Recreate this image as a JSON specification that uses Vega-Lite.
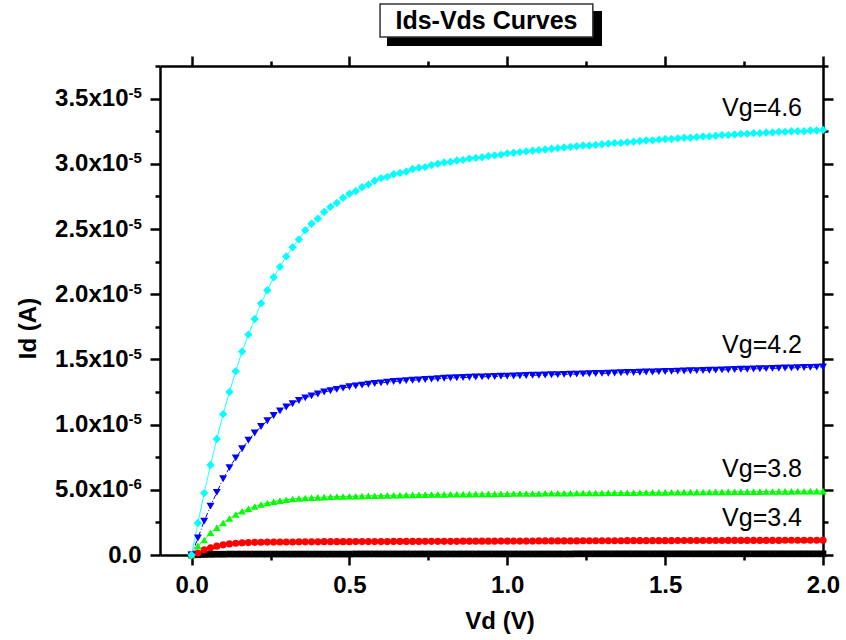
{
"$schema":"https://vega.github.io/schema/vega-lite/v6.json",
"width":663,"height":489,
"autosize":{"type":"none"},
"padding":{"left":160,"top":66,"right":23,"bottom":85},
"background":"white",
"config":{"view":{"stroke":null},"axis":{"grid":false,"domainColor":"black","domainWidth":2.5,"tickColor":"black","tickWidth":2.5,"labelFont":"Liberation Sans","labelFontWeight":"bold","labelFontSize":24,"labelColor":"black","labelOverlap":false,"labelFlush":false,"labelBound":false,"titleFont":"Liberation Sans","titleFontWeight":"bold","titleFontSize":24,"titleColor":"black"}},
"data":{"values":[
{"vg":"Vg=3.0","vd":0,"id":0},{"vg":"Vg=3.0","vd":0.02,"id":0.02},{"vg":"Vg=3.0","vd":0.04,"id":0.04},{"vg":"Vg=3.0","vd":0.06,"id":0.05},{"vg":"Vg=3.0","vd":0.08,"id":0.06},{"vg":"Vg=3.0","vd":0.1,"id":0.06},{"vg":"Vg=3.0","vd":0.12,"id":0.07},{"vg":"Vg=3.0","vd":0.14,"id":0.07},{"vg":"Vg=3.0","vd":0.16,"id":0.07},{"vg":"Vg=3.0","vd":0.18,"id":0.07},{"vg":"Vg=3.0","vd":0.2,"id":0.07},{"vg":"Vg=3.0","vd":0.22,"id":0.07},{"vg":"Vg=3.0","vd":0.24,"id":0.07},{"vg":"Vg=3.0","vd":0.26,"id":0.07},{"vg":"Vg=3.0","vd":0.28,"id":0.07},{"vg":"Vg=3.0","vd":0.3,"id":0.07},{"vg":"Vg=3.0","vd":0.32,"id":0.07},{"vg":"Vg=3.0","vd":0.34,"id":0.07},{"vg":"Vg=3.0","vd":0.36,"id":0.07},{"vg":"Vg=3.0","vd":0.38,"id":0.07},{"vg":"Vg=3.0","vd":0.4,"id":0.07},{"vg":"Vg=3.0","vd":0.42,"id":0.07},{"vg":"Vg=3.0","vd":0.44,"id":0.07},{"vg":"Vg=3.0","vd":0.46,"id":0.07},{"vg":"Vg=3.0","vd":0.48,"id":0.07},{"vg":"Vg=3.0","vd":0.5,"id":0.07},{"vg":"Vg=3.0","vd":0.52,"id":0.08},{"vg":"Vg=3.0","vd":0.54,"id":0.08},{"vg":"Vg=3.0","vd":0.56,"id":0.08},{"vg":"Vg=3.0","vd":0.58,"id":0.08},{"vg":"Vg=3.0","vd":0.6,"id":0.08},{"vg":"Vg=3.0","vd":0.62,"id":0.08},{"vg":"Vg=3.0","vd":0.64,"id":0.08},{"vg":"Vg=3.0","vd":0.66,"id":0.08},{"vg":"Vg=3.0","vd":0.68,"id":0.08},{"vg":"Vg=3.0","vd":0.7,"id":0.08},{"vg":"Vg=3.0","vd":0.72,"id":0.08},{"vg":"Vg=3.0","vd":0.74,"id":0.08},{"vg":"Vg=3.0","vd":0.76,"id":0.08},{"vg":"Vg=3.0","vd":0.78,"id":0.08},{"vg":"Vg=3.0","vd":0.8,"id":0.08},{"vg":"Vg=3.0","vd":0.82,"id":0.08},{"vg":"Vg=3.0","vd":0.84,"id":0.08},{"vg":"Vg=3.0","vd":0.86,"id":0.08},{"vg":"Vg=3.0","vd":0.88,"id":0.08},{"vg":"Vg=3.0","vd":0.9,"id":0.08},{"vg":"Vg=3.0","vd":0.92,"id":0.08},{"vg":"Vg=3.0","vd":0.94,"id":0.08},{"vg":"Vg=3.0","vd":0.96,"id":0.08},{"vg":"Vg=3.0","vd":0.98,"id":0.08},{"vg":"Vg=3.0","vd":1,"id":0.08},{"vg":"Vg=3.0","vd":1.02,"id":0.08},{"vg":"Vg=3.0","vd":1.04,"id":0.08},{"vg":"Vg=3.0","vd":1.06,"id":0.08},{"vg":"Vg=3.0","vd":1.08,"id":0.08},{"vg":"Vg=3.0","vd":1.1,"id":0.08},{"vg":"Vg=3.0","vd":1.12,"id":0.08},{"vg":"Vg=3.0","vd":1.14,"id":0.08},{"vg":"Vg=3.0","vd":1.16,"id":0.08},{"vg":"Vg=3.0","vd":1.18,"id":0.08},{"vg":"Vg=3.0","vd":1.2,"id":0.08},{"vg":"Vg=3.0","vd":1.22,"id":0.09},{"vg":"Vg=3.0","vd":1.24,"id":0.09},{"vg":"Vg=3.0","vd":1.26,"id":0.09},{"vg":"Vg=3.0","vd":1.28,"id":0.09},{"vg":"Vg=3.0","vd":1.3,"id":0.09},{"vg":"Vg=3.0","vd":1.32,"id":0.09},{"vg":"Vg=3.0","vd":1.34,"id":0.09},{"vg":"Vg=3.0","vd":1.36,"id":0.09},{"vg":"Vg=3.0","vd":1.38,"id":0.09},{"vg":"Vg=3.0","vd":1.4,"id":0.09},{"vg":"Vg=3.0","vd":1.42,"id":0.09},{"vg":"Vg=3.0","vd":1.44,"id":0.09},{"vg":"Vg=3.0","vd":1.46,"id":0.09},{"vg":"Vg=3.0","vd":1.48,"id":0.09},{"vg":"Vg=3.0","vd":1.5,"id":0.09},{"vg":"Vg=3.0","vd":1.52,"id":0.09},{"vg":"Vg=3.0","vd":1.54,"id":0.09},{"vg":"Vg=3.0","vd":1.56,"id":0.09},{"vg":"Vg=3.0","vd":1.58,"id":0.09},{"vg":"Vg=3.0","vd":1.6,"id":0.09},{"vg":"Vg=3.0","vd":1.62,"id":0.09},{"vg":"Vg=3.0","vd":1.64,"id":0.09},{"vg":"Vg=3.0","vd":1.66,"id":0.09},{"vg":"Vg=3.0","vd":1.68,"id":0.09},{"vg":"Vg=3.0","vd":1.7,"id":0.09},{"vg":"Vg=3.0","vd":1.72,"id":0.09},{"vg":"Vg=3.0","vd":1.74,"id":0.09},{"vg":"Vg=3.0","vd":1.76,"id":0.09},{"vg":"Vg=3.0","vd":1.78,"id":0.09},{"vg":"Vg=3.0","vd":1.8,"id":0.09},{"vg":"Vg=3.0","vd":1.82,"id":0.09},{"vg":"Vg=3.0","vd":1.84,"id":0.09},{"vg":"Vg=3.0","vd":1.86,"id":0.09},{"vg":"Vg=3.0","vd":1.88,"id":0.09},{"vg":"Vg=3.0","vd":1.9,"id":0.09},{"vg":"Vg=3.0","vd":1.92,"id":0.09},{"vg":"Vg=3.0","vd":1.94,"id":0.09},{"vg":"Vg=3.0","vd":1.96,"id":0.09},{"vg":"Vg=3.0","vd":1.98,"id":0.09},{"vg":"Vg=3.0","vd":2,"id":0.09},
{"vg":"Vg=3.4","vd":0,"id":0},{"vg":"Vg=3.4","vd":0.02,"id":0.15},{"vg":"Vg=3.4","vd":0.04,"id":0.4},{"vg":"Vg=3.4","vd":0.06,"id":0.55},{"vg":"Vg=3.4","vd":0.08,"id":0.68},{"vg":"Vg=3.4","vd":0.1,"id":0.78},{"vg":"Vg=3.4","vd":0.12,"id":0.85},{"vg":"Vg=3.4","vd":0.14,"id":0.9},{"vg":"Vg=3.4","vd":0.16,"id":0.93},{"vg":"Vg=3.4","vd":0.18,"id":0.95},{"vg":"Vg=3.4","vd":0.2,"id":0.97},{"vg":"Vg=3.4","vd":0.22,"id":0.98},{"vg":"Vg=3.4","vd":0.24,"id":0.99},{"vg":"Vg=3.4","vd":0.26,"id":0.99},{"vg":"Vg=3.4","vd":0.28,"id":1},{"vg":"Vg=3.4","vd":0.3,"id":1},{"vg":"Vg=3.4","vd":0.32,"id":1},{"vg":"Vg=3.4","vd":0.34,"id":1.01},{"vg":"Vg=3.4","vd":0.36,"id":1.01},{"vg":"Vg=3.4","vd":0.38,"id":1.01},{"vg":"Vg=3.4","vd":0.4,"id":1.01},{"vg":"Vg=3.4","vd":0.42,"id":1.02},{"vg":"Vg=3.4","vd":0.44,"id":1.02},{"vg":"Vg=3.4","vd":0.46,"id":1.02},{"vg":"Vg=3.4","vd":0.48,"id":1.02},{"vg":"Vg=3.4","vd":0.5,"id":1.02},{"vg":"Vg=3.4","vd":0.52,"id":1.03},{"vg":"Vg=3.4","vd":0.54,"id":1.03},{"vg":"Vg=3.4","vd":0.56,"id":1.03},{"vg":"Vg=3.4","vd":0.58,"id":1.03},{"vg":"Vg=3.4","vd":0.6,"id":1.03},{"vg":"Vg=3.4","vd":0.62,"id":1.03},{"vg":"Vg=3.4","vd":0.64,"id":1.04},{"vg":"Vg=3.4","vd":0.66,"id":1.04},{"vg":"Vg=3.4","vd":0.68,"id":1.04},{"vg":"Vg=3.4","vd":0.7,"id":1.04},{"vg":"Vg=3.4","vd":0.72,"id":1.04},{"vg":"Vg=3.4","vd":0.74,"id":1.05},{"vg":"Vg=3.4","vd":0.76,"id":1.05},{"vg":"Vg=3.4","vd":0.78,"id":1.05},{"vg":"Vg=3.4","vd":0.8,"id":1.05},{"vg":"Vg=3.4","vd":0.82,"id":1.05},{"vg":"Vg=3.4","vd":0.84,"id":1.05},{"vg":"Vg=3.4","vd":0.86,"id":1.06},{"vg":"Vg=3.4","vd":0.88,"id":1.06},{"vg":"Vg=3.4","vd":0.9,"id":1.06},{"vg":"Vg=3.4","vd":0.92,"id":1.06},{"vg":"Vg=3.4","vd":0.94,"id":1.06},{"vg":"Vg=3.4","vd":0.96,"id":1.06},{"vg":"Vg=3.4","vd":0.98,"id":1.07},{"vg":"Vg=3.4","vd":1,"id":1.07},{"vg":"Vg=3.4","vd":1.02,"id":1.07},{"vg":"Vg=3.4","vd":1.04,"id":1.07},{"vg":"Vg=3.4","vd":1.06,"id":1.07},{"vg":"Vg=3.4","vd":1.08,"id":1.07},{"vg":"Vg=3.4","vd":1.1,"id":1.08},{"vg":"Vg=3.4","vd":1.12,"id":1.08},{"vg":"Vg=3.4","vd":1.14,"id":1.08},{"vg":"Vg=3.4","vd":1.16,"id":1.08},{"vg":"Vg=3.4","vd":1.18,"id":1.08},{"vg":"Vg=3.4","vd":1.2,"id":1.08},{"vg":"Vg=3.4","vd":1.22,"id":1.08},{"vg":"Vg=3.4","vd":1.24,"id":1.09},{"vg":"Vg=3.4","vd":1.26,"id":1.09},{"vg":"Vg=3.4","vd":1.28,"id":1.09},{"vg":"Vg=3.4","vd":1.3,"id":1.09},{"vg":"Vg=3.4","vd":1.32,"id":1.09},{"vg":"Vg=3.4","vd":1.34,"id":1.09},{"vg":"Vg=3.4","vd":1.36,"id":1.09},{"vg":"Vg=3.4","vd":1.38,"id":1.1},{"vg":"Vg=3.4","vd":1.4,"id":1.1},{"vg":"Vg=3.4","vd":1.42,"id":1.1},{"vg":"Vg=3.4","vd":1.44,"id":1.1},{"vg":"Vg=3.4","vd":1.46,"id":1.1},{"vg":"Vg=3.4","vd":1.48,"id":1.1},{"vg":"Vg=3.4","vd":1.5,"id":1.1},{"vg":"Vg=3.4","vd":1.52,"id":1.1},{"vg":"Vg=3.4","vd":1.54,"id":1.11},{"vg":"Vg=3.4","vd":1.56,"id":1.11},{"vg":"Vg=3.4","vd":1.58,"id":1.11},{"vg":"Vg=3.4","vd":1.6,"id":1.11},{"vg":"Vg=3.4","vd":1.62,"id":1.11},{"vg":"Vg=3.4","vd":1.64,"id":1.11},{"vg":"Vg=3.4","vd":1.66,"id":1.11},{"vg":"Vg=3.4","vd":1.68,"id":1.11},{"vg":"Vg=3.4","vd":1.7,"id":1.12},{"vg":"Vg=3.4","vd":1.72,"id":1.12},{"vg":"Vg=3.4","vd":1.74,"id":1.12},{"vg":"Vg=3.4","vd":1.76,"id":1.12},{"vg":"Vg=3.4","vd":1.78,"id":1.12},{"vg":"Vg=3.4","vd":1.8,"id":1.12},{"vg":"Vg=3.4","vd":1.82,"id":1.12},{"vg":"Vg=3.4","vd":1.84,"id":1.12},{"vg":"Vg=3.4","vd":1.86,"id":1.12},{"vg":"Vg=3.4","vd":1.88,"id":1.13},{"vg":"Vg=3.4","vd":1.9,"id":1.13},{"vg":"Vg=3.4","vd":1.92,"id":1.13},{"vg":"Vg=3.4","vd":1.94,"id":1.13},{"vg":"Vg=3.4","vd":1.96,"id":1.13},{"vg":"Vg=3.4","vd":1.98,"id":1.13},{"vg":"Vg=3.4","vd":2,"id":1.13},
{"vg":"Vg=3.8","vd":0,"id":0},{"vg":"Vg=3.8","vd":0.02,"id":0.7},{"vg":"Vg=3.8","vd":0.04,"id":1.15},{"vg":"Vg=3.8","vd":0.06,"id":1.7},{"vg":"Vg=3.8","vd":0.08,"id":2.1},{"vg":"Vg=3.8","vd":0.1,"id":2.45},{"vg":"Vg=3.8","vd":0.12,"id":2.8},{"vg":"Vg=3.8","vd":0.14,"id":3.1},{"vg":"Vg=3.8","vd":0.16,"id":3.35},{"vg":"Vg=3.8","vd":0.18,"id":3.55},{"vg":"Vg=3.8","vd":0.2,"id":3.72},{"vg":"Vg=3.8","vd":0.22,"id":3.87},{"vg":"Vg=3.8","vd":0.24,"id":3.99},{"vg":"Vg=3.8","vd":0.26,"id":4.09},{"vg":"Vg=3.8","vd":0.28,"id":4.17},{"vg":"Vg=3.8","vd":0.3,"id":4.24},{"vg":"Vg=3.8","vd":0.32,"id":4.29},{"vg":"Vg=3.8","vd":0.34,"id":4.33},{"vg":"Vg=3.8","vd":0.36,"id":4.37},{"vg":"Vg=3.8","vd":0.38,"id":4.4},{"vg":"Vg=3.8","vd":0.4,"id":4.42},{"vg":"Vg=3.8","vd":0.42,"id":4.44},{"vg":"Vg=3.8","vd":0.44,"id":4.46},{"vg":"Vg=3.8","vd":0.46,"id":4.48},{"vg":"Vg=3.8","vd":0.48,"id":4.49},{"vg":"Vg=3.8","vd":0.5,"id":4.5},{"vg":"Vg=3.8","vd":0.52,"id":4.51},{"vg":"Vg=3.8","vd":0.54,"id":4.53},{"vg":"Vg=3.8","vd":0.56,"id":4.54},{"vg":"Vg=3.8","vd":0.58,"id":4.55},{"vg":"Vg=3.8","vd":0.6,"id":4.56},{"vg":"Vg=3.8","vd":0.62,"id":4.57},{"vg":"Vg=3.8","vd":0.64,"id":4.58},{"vg":"Vg=3.8","vd":0.66,"id":4.59},{"vg":"Vg=3.8","vd":0.68,"id":4.6},{"vg":"Vg=3.8","vd":0.7,"id":4.61},{"vg":"Vg=3.8","vd":0.72,"id":4.62},{"vg":"Vg=3.8","vd":0.74,"id":4.63},{"vg":"Vg=3.8","vd":0.76,"id":4.64},{"vg":"Vg=3.8","vd":0.78,"id":4.65},{"vg":"Vg=3.8","vd":0.8,"id":4.65},{"vg":"Vg=3.8","vd":0.82,"id":4.66},{"vg":"Vg=3.8","vd":0.84,"id":4.66},{"vg":"Vg=3.8","vd":0.86,"id":4.67},{"vg":"Vg=3.8","vd":0.88,"id":4.67},{"vg":"Vg=3.8","vd":0.9,"id":4.68},{"vg":"Vg=3.8","vd":0.92,"id":4.68},{"vg":"Vg=3.8","vd":0.94,"id":4.69},{"vg":"Vg=3.8","vd":0.96,"id":4.69},{"vg":"Vg=3.8","vd":0.98,"id":4.7},{"vg":"Vg=3.8","vd":1,"id":4.7},{"vg":"Vg=3.8","vd":1.02,"id":4.71},{"vg":"Vg=3.8","vd":1.04,"id":4.71},{"vg":"Vg=3.8","vd":1.06,"id":4.72},{"vg":"Vg=3.8","vd":1.08,"id":4.72},{"vg":"Vg=3.8","vd":1.1,"id":4.72},{"vg":"Vg=3.8","vd":1.12,"id":4.73},{"vg":"Vg=3.8","vd":1.14,"id":4.73},{"vg":"Vg=3.8","vd":1.16,"id":4.74},{"vg":"Vg=3.8","vd":1.18,"id":4.74},{"vg":"Vg=3.8","vd":1.2,"id":4.74},{"vg":"Vg=3.8","vd":1.22,"id":4.75},{"vg":"Vg=3.8","vd":1.24,"id":4.75},{"vg":"Vg=3.8","vd":1.26,"id":4.76},{"vg":"Vg=3.8","vd":1.28,"id":4.76},{"vg":"Vg=3.8","vd":1.3,"id":4.76},{"vg":"Vg=3.8","vd":1.32,"id":4.77},{"vg":"Vg=3.8","vd":1.34,"id":4.77},{"vg":"Vg=3.8","vd":1.36,"id":4.78},{"vg":"Vg=3.8","vd":1.38,"id":4.78},{"vg":"Vg=3.8","vd":1.4,"id":4.78},{"vg":"Vg=3.8","vd":1.42,"id":4.79},{"vg":"Vg=3.8","vd":1.44,"id":4.79},{"vg":"Vg=3.8","vd":1.46,"id":4.8},{"vg":"Vg=3.8","vd":1.48,"id":4.8},{"vg":"Vg=3.8","vd":1.5,"id":4.8},{"vg":"Vg=3.8","vd":1.52,"id":4.81},{"vg":"Vg=3.8","vd":1.54,"id":4.81},{"vg":"Vg=3.8","vd":1.56,"id":4.82},{"vg":"Vg=3.8","vd":1.58,"id":4.82},{"vg":"Vg=3.8","vd":1.6,"id":4.82},{"vg":"Vg=3.8","vd":1.62,"id":4.83},{"vg":"Vg=3.8","vd":1.64,"id":4.83},{"vg":"Vg=3.8","vd":1.66,"id":4.84},{"vg":"Vg=3.8","vd":1.68,"id":4.84},{"vg":"Vg=3.8","vd":1.7,"id":4.84},{"vg":"Vg=3.8","vd":1.72,"id":4.85},{"vg":"Vg=3.8","vd":1.74,"id":4.85},{"vg":"Vg=3.8","vd":1.76,"id":4.86},{"vg":"Vg=3.8","vd":1.78,"id":4.86},{"vg":"Vg=3.8","vd":1.8,"id":4.86},{"vg":"Vg=3.8","vd":1.82,"id":4.87},{"vg":"Vg=3.8","vd":1.84,"id":4.87},{"vg":"Vg=3.8","vd":1.86,"id":4.88},{"vg":"Vg=3.8","vd":1.88,"id":4.88},{"vg":"Vg=3.8","vd":1.9,"id":4.88},{"vg":"Vg=3.8","vd":1.92,"id":4.89},{"vg":"Vg=3.8","vd":1.94,"id":4.89},{"vg":"Vg=3.8","vd":1.96,"id":4.9},{"vg":"Vg=3.8","vd":1.98,"id":4.9},{"vg":"Vg=3.8","vd":2,"id":4.9},
{"vg":"Vg=4.2","vd":0,"id":0},{"vg":"Vg=4.2","vd":0.02,"id":1.3},{"vg":"Vg=4.2","vd":0.04,"id":2.6},{"vg":"Vg=4.2","vd":0.06,"id":3.75},{"vg":"Vg=4.2","vd":0.08,"id":4.8},{"vg":"Vg=4.2","vd":0.1,"id":5.85},{"vg":"Vg=4.2","vd":0.12,"id":6.7},{"vg":"Vg=4.2","vd":0.14,"id":7.45},{"vg":"Vg=4.2","vd":0.16,"id":8.15},{"vg":"Vg=4.2","vd":0.18,"id":8.8},{"vg":"Vg=4.2","vd":0.2,"id":9.35},{"vg":"Vg=4.2","vd":0.22,"id":9.85},{"vg":"Vg=4.2","vd":0.24,"id":10.3},{"vg":"Vg=4.2","vd":0.26,"id":10.7},{"vg":"Vg=4.2","vd":0.28,"id":11.05},{"vg":"Vg=4.2","vd":0.3,"id":11.35},{"vg":"Vg=4.2","vd":0.32,"id":11.6},{"vg":"Vg=4.2","vd":0.34,"id":11.85},{"vg":"Vg=4.2","vd":0.36,"id":12.05},{"vg":"Vg=4.2","vd":0.38,"id":12.2},{"vg":"Vg=4.2","vd":0.4,"id":12.35},{"vg":"Vg=4.2","vd":0.42,"id":12.5},{"vg":"Vg=4.2","vd":0.44,"id":12.6},{"vg":"Vg=4.2","vd":0.46,"id":12.7},{"vg":"Vg=4.2","vd":0.48,"id":12.8},{"vg":"Vg=4.2","vd":0.5,"id":12.9},{"vg":"Vg=4.2","vd":0.52,"id":12.97},{"vg":"Vg=4.2","vd":0.54,"id":13.03},{"vg":"Vg=4.2","vd":0.56,"id":13.1},{"vg":"Vg=4.2","vd":0.58,"id":13.15},{"vg":"Vg=4.2","vd":0.6,"id":13.2},{"vg":"Vg=4.2","vd":0.62,"id":13.25},{"vg":"Vg=4.2","vd":0.64,"id":13.3},{"vg":"Vg=4.2","vd":0.66,"id":13.33},{"vg":"Vg=4.2","vd":0.68,"id":13.37},{"vg":"Vg=4.2","vd":0.7,"id":13.4},{"vg":"Vg=4.2","vd":0.72,"id":13.43},{"vg":"Vg=4.2","vd":0.74,"id":13.46},{"vg":"Vg=4.2","vd":0.76,"id":13.49},{"vg":"Vg=4.2","vd":0.78,"id":13.52},{"vg":"Vg=4.2","vd":0.8,"id":13.55},{"vg":"Vg=4.2","vd":0.82,"id":13.57},{"vg":"Vg=4.2","vd":0.84,"id":13.59},{"vg":"Vg=4.2","vd":0.86,"id":13.61},{"vg":"Vg=4.2","vd":0.88,"id":13.63},{"vg":"Vg=4.2","vd":0.9,"id":13.65},{"vg":"Vg=4.2","vd":0.92,"id":13.66},{"vg":"Vg=4.2","vd":0.94,"id":13.68},{"vg":"Vg=4.2","vd":0.96,"id":13.69},{"vg":"Vg=4.2","vd":0.98,"id":13.71},{"vg":"Vg=4.2","vd":1,"id":13.72},{"vg":"Vg=4.2","vd":1.02,"id":13.73},{"vg":"Vg=4.2","vd":1.04,"id":13.75},{"vg":"Vg=4.2","vd":1.06,"id":13.76},{"vg":"Vg=4.2","vd":1.08,"id":13.78},{"vg":"Vg=4.2","vd":1.1,"id":13.79},{"vg":"Vg=4.2","vd":1.12,"id":13.8},{"vg":"Vg=4.2","vd":1.14,"id":13.82},{"vg":"Vg=4.2","vd":1.16,"id":13.83},{"vg":"Vg=4.2","vd":1.18,"id":13.85},{"vg":"Vg=4.2","vd":1.2,"id":13.86},{"vg":"Vg=4.2","vd":1.22,"id":13.87},{"vg":"Vg=4.2","vd":1.24,"id":13.89},{"vg":"Vg=4.2","vd":1.26,"id":13.9},{"vg":"Vg=4.2","vd":1.28,"id":13.92},{"vg":"Vg=4.2","vd":1.3,"id":13.93},{"vg":"Vg=4.2","vd":1.32,"id":13.94},{"vg":"Vg=4.2","vd":1.34,"id":13.96},{"vg":"Vg=4.2","vd":1.36,"id":13.97},{"vg":"Vg=4.2","vd":1.38,"id":13.99},{"vg":"Vg=4.2","vd":1.4,"id":14},{"vg":"Vg=4.2","vd":1.42,"id":14.01},{"vg":"Vg=4.2","vd":1.44,"id":14.03},{"vg":"Vg=4.2","vd":1.46,"id":14.04},{"vg":"Vg=4.2","vd":1.48,"id":14.06},{"vg":"Vg=4.2","vd":1.5,"id":14.07},{"vg":"Vg=4.2","vd":1.52,"id":14.08},{"vg":"Vg=4.2","vd":1.54,"id":14.1},{"vg":"Vg=4.2","vd":1.56,"id":14.11},{"vg":"Vg=4.2","vd":1.58,"id":14.13},{"vg":"Vg=4.2","vd":1.6,"id":14.14},{"vg":"Vg=4.2","vd":1.62,"id":14.15},{"vg":"Vg=4.2","vd":1.64,"id":14.17},{"vg":"Vg=4.2","vd":1.66,"id":14.18},{"vg":"Vg=4.2","vd":1.68,"id":14.2},{"vg":"Vg=4.2","vd":1.7,"id":14.21},{"vg":"Vg=4.2","vd":1.72,"id":14.22},{"vg":"Vg=4.2","vd":1.74,"id":14.24},{"vg":"Vg=4.2","vd":1.76,"id":14.25},{"vg":"Vg=4.2","vd":1.78,"id":14.27},{"vg":"Vg=4.2","vd":1.8,"id":14.28},{"vg":"Vg=4.2","vd":1.82,"id":14.29},{"vg":"Vg=4.2","vd":1.84,"id":14.31},{"vg":"Vg=4.2","vd":1.86,"id":14.32},{"vg":"Vg=4.2","vd":1.88,"id":14.34},{"vg":"Vg=4.2","vd":1.9,"id":14.35},{"vg":"Vg=4.2","vd":1.92,"id":14.36},{"vg":"Vg=4.2","vd":1.94,"id":14.38},{"vg":"Vg=4.2","vd":1.96,"id":14.39},{"vg":"Vg=4.2","vd":1.98,"id":14.41},{"vg":"Vg=4.2","vd":2,"id":14.42},
{"vg":"Vg=4.6","vd":0,"id":0},{"vg":"Vg=4.6","vd":0.02,"id":2.45},{"vg":"Vg=4.6","vd":0.04,"id":4.75},{"vg":"Vg=4.6","vd":0.06,"id":6.9},{"vg":"Vg=4.6","vd":0.08,"id":8.9},{"vg":"Vg=4.6","vd":0.1,"id":10.8},{"vg":"Vg=4.6","vd":0.12,"id":12.5},{"vg":"Vg=4.6","vd":0.14,"id":14.1},{"vg":"Vg=4.6","vd":0.16,"id":15.6},{"vg":"Vg=4.6","vd":0.18,"id":16.9},{"vg":"Vg=4.6","vd":0.2,"id":18.1},{"vg":"Vg=4.6","vd":0.22,"id":19.3},{"vg":"Vg=4.6","vd":0.24,"id":20.3},{"vg":"Vg=4.6","vd":0.26,"id":21.3},{"vg":"Vg=4.6","vd":0.28,"id":22.1},{"vg":"Vg=4.6","vd":0.3,"id":22.9},{"vg":"Vg=4.6","vd":0.32,"id":23.6},{"vg":"Vg=4.6","vd":0.34,"id":24.2},{"vg":"Vg=4.6","vd":0.36,"id":24.9},{"vg":"Vg=4.6","vd":0.38,"id":25.4},{"vg":"Vg=4.6","vd":0.4,"id":25.8},{"vg":"Vg=4.6","vd":0.42,"id":26.3},{"vg":"Vg=4.6","vd":0.44,"id":26.7},{"vg":"Vg=4.6","vd":0.46,"id":27},{"vg":"Vg=4.6","vd":0.48,"id":27.4},{"vg":"Vg=4.6","vd":0.5,"id":27.7},{"vg":"Vg=4.6","vd":0.52,"id":27.9},{"vg":"Vg=4.6","vd":0.54,"id":28.2},{"vg":"Vg=4.6","vd":0.56,"id":28.4},{"vg":"Vg=4.6","vd":0.58,"id":28.7},{"vg":"Vg=4.6","vd":0.6,"id":28.9},{"vg":"Vg=4.6","vd":0.62,"id":29},{"vg":"Vg=4.6","vd":0.64,"id":29.2},{"vg":"Vg=4.6","vd":0.66,"id":29.3},{"vg":"Vg=4.6","vd":0.68,"id":29.4},{"vg":"Vg=4.6","vd":0.7,"id":29.6},{"vg":"Vg=4.6","vd":0.72,"id":29.7},{"vg":"Vg=4.6","vd":0.74,"id":29.75},{"vg":"Vg=4.6","vd":0.76,"id":29.9},{"vg":"Vg=4.6","vd":0.78,"id":30},{"vg":"Vg=4.6","vd":0.8,"id":30.1},{"vg":"Vg=4.6","vd":0.82,"id":30.15},{"vg":"Vg=4.6","vd":0.84,"id":30.25},{"vg":"Vg=4.6","vd":0.86,"id":30.3},{"vg":"Vg=4.6","vd":0.88,"id":30.4},{"vg":"Vg=4.6","vd":0.9,"id":30.45},{"vg":"Vg=4.6","vd":0.92,"id":30.5},{"vg":"Vg=4.6","vd":0.94,"id":30.6},{"vg":"Vg=4.6","vd":0.96,"id":30.65},{"vg":"Vg=4.6","vd":0.98,"id":30.7},{"vg":"Vg=4.6","vd":1,"id":30.8},{"vg":"Vg=4.6","vd":1.02,"id":30.85},{"vg":"Vg=4.6","vd":1.04,"id":30.9},{"vg":"Vg=4.6","vd":1.06,"id":30.95},{"vg":"Vg=4.6","vd":1.08,"id":31},{"vg":"Vg=4.6","vd":1.1,"id":31.05},{"vg":"Vg=4.6","vd":1.12,"id":31.1},{"vg":"Vg=4.6","vd":1.14,"id":31.15},{"vg":"Vg=4.6","vd":1.16,"id":31.2},{"vg":"Vg=4.6","vd":1.18,"id":31.25},{"vg":"Vg=4.6","vd":1.2,"id":31.3},{"vg":"Vg=4.6","vd":1.22,"id":31.35},{"vg":"Vg=4.6","vd":1.24,"id":31.4},{"vg":"Vg=4.6","vd":1.26,"id":31.4},{"vg":"Vg=4.6","vd":1.28,"id":31.45},{"vg":"Vg=4.6","vd":1.3,"id":31.5},{"vg":"Vg=4.6","vd":1.32,"id":31.55},{"vg":"Vg=4.6","vd":1.34,"id":31.6},{"vg":"Vg=4.6","vd":1.36,"id":31.6},{"vg":"Vg=4.6","vd":1.38,"id":31.65},{"vg":"Vg=4.6","vd":1.4,"id":31.7},{"vg":"Vg=4.6","vd":1.42,"id":31.75},{"vg":"Vg=4.6","vd":1.44,"id":31.8},{"vg":"Vg=4.6","vd":1.46,"id":31.8},{"vg":"Vg=4.6","vd":1.48,"id":31.85},{"vg":"Vg=4.6","vd":1.5,"id":31.9},{"vg":"Vg=4.6","vd":1.52,"id":31.9},{"vg":"Vg=4.6","vd":1.54,"id":31.95},{"vg":"Vg=4.6","vd":1.56,"id":32},{"vg":"Vg=4.6","vd":1.58,"id":32},{"vg":"Vg=4.6","vd":1.6,"id":32.05},{"vg":"Vg=4.6","vd":1.62,"id":32.1},{"vg":"Vg=4.6","vd":1.64,"id":32.1},{"vg":"Vg=4.6","vd":1.66,"id":32.15},{"vg":"Vg=4.6","vd":1.68,"id":32.2},{"vg":"Vg=4.6","vd":1.7,"id":32.2},{"vg":"Vg=4.6","vd":1.72,"id":32.25},{"vg":"Vg=4.6","vd":1.74,"id":32.3},{"vg":"Vg=4.6","vd":1.76,"id":32.3},{"vg":"Vg=4.6","vd":1.78,"id":32.35},{"vg":"Vg=4.6","vd":1.8,"id":32.35},{"vg":"Vg=4.6","vd":1.82,"id":32.4},{"vg":"Vg=4.6","vd":1.84,"id":32.4},{"vg":"Vg=4.6","vd":1.86,"id":32.45},{"vg":"Vg=4.6","vd":1.88,"id":32.45},{"vg":"Vg=4.6","vd":1.9,"id":32.5},{"vg":"Vg=4.6","vd":1.92,"id":32.5},{"vg":"Vg=4.6","vd":1.94,"id":32.5},{"vg":"Vg=4.6","vd":1.96,"id":32.55},{"vg":"Vg=4.6","vd":1.98,"id":32.55},{"vg":"Vg=4.6","vd":2,"id":32.6}
]},
"resolve":{"axis":{"x":"independent","y":"independent"}},
"layer":[
{"mark":{"type":"line","strokeWidth":1},
 "encoding":{
  "x":{"field":"vd","type":"quantitative","scale":{"domain":[-0.1,2.0],"nice":false,"zero":false},
   "axis":{"orient":"top","values":[0,0.25,0.5,0.75,1,1.25,1.5,1.75,2],"labels":false,"title":null,"tickSize":{"condition":{"test":"datum.value % 0.5 !== 0","value":5},"value":10}}},
  "y":{"field":"id","type":"quantitative","scale":{"domain":[0,37.5],"nice":false,"zero":false},
   "axis":{"orient":"right","values":[0,2.5,5,7.5,10,12.5,15,17.5,20,22.5,25,27.5,30,32.5,35,37.5],"labels":false,"title":null,"tickSize":{"condition":{"test":"datum.value % 5 !== 0","value":5},"value":10}}},
  "detail":{"field":"vg","type":"nominal"},
  "color":{"field":"vg","type":"nominal","legend":null,"scale":{"domain":["Vg=3.0","Vg=3.4","Vg=3.8","Vg=4.2","Vg=4.6"],"range":["#000000","#FF0000","#00FF00","#0000FF","#00FFFF"]}},
  "strokeDash":{"field":"vg","type":"nominal","legend":null,"scale":{"domain":["Vg=3.0","Vg=3.4","Vg=3.8","Vg=4.2","Vg=4.6"],"range":[[1,0],[1,0],[1,0],[5,2,1,2],[1,0]]}}
 }},
{"mark":{"type":"point","filled":true,"opacity":1,"strokeWidth":0},
 "encoding":{
  "x":{"field":"vd","type":"quantitative","scale":{"domain":[-0.1,2.0],"nice":false,"zero":false},
   "axis":{"orient":"bottom","values":[0,0.25,0.5,0.75,1,1.25,1.5,1.75,2],"labelExpr":"datum.value % 0.5 === 0 ? format(datum.value, '.1f') : ''","labelPadding":8,"tickSize":{"condition":{"test":"datum.value % 0.5 !== 0","value":5},"value":10},"title":"Vd (V)","titleX":339.5,"titleY":73,"titleBaseline":"alphabetic","titleAlign":"center"}},
  "y":{"field":"id","type":"quantitative","scale":{"domain":[0,37.5],"nice":false,"zero":false},
   "axis":{"orient":"left","values":[0,2.5,5,7.5,10,12.5,15,17.5,20,22.5,25,27.5,30,32.5,35,37.5],"labelExpr":"datum.value === 0 ? '0.0' : (datum.value % 5 !== 0 ? '' : (datum.value < 10 ? format(datum.value, '.1f') + 'x10' : format(datum.value / 10, '.1f') + 'x10'))","labelPadding":{"condition":{"test":"datum.value === 0","value":9},"value":22},"tickSize":{"condition":{"test":"datum.value % 5 !== 0","value":5},"value":10},"title":"Id (A)","titleX":-132,"titleY":262,"titleAngle":270,"titleBaseline":"middle","titleAlign":"center"}},
  "color":{"field":"vg","type":"nominal","legend":null,"scale":{"domain":["Vg=3.0","Vg=3.4","Vg=3.8","Vg=4.2","Vg=4.6"],"range":["#000000","#FF0000","#00FF00","#0000FF","#00FFFF"]}},
  "shape":{"field":"vg","type":"nominal","legend":null,"scale":{"domain":["Vg=3.0","Vg=3.4","Vg=3.8","Vg=4.2","Vg=4.6"],"range":["square","circle","triangle-up","triangle-down","diamond"]}},
  "size":{"field":"vg","type":"nominal","legend":null,"scale":{"domain":["Vg=3.0","Vg=3.4","Vg=3.8","Vg=4.2","Vg=4.6"],"range":[45,70,130,130,130]}}
 }},
{"transform":[{"filter":"datum.vd === 2 && datum.vg !== 'Vg=3.0'"}],
 "mark":{"type":"text","align":"right","baseline":"alphabetic","dx":-21,"dy":-14,"font":"Liberation Sans","fontSize":25,"color":"black"},
 "encoding":{
  "x":{"field":"vd","type":"quantitative","axis":null,"scale":{"domain":[-0.1,2.0],"nice":false,"zero":false}},
  "y":{"field":"id","type":"quantitative","scale":{"domain":[0,37.5],"nice":false,"zero":false},
   "axis":{"orient":"left","values":[5,10,15,20,25,30,35],"domain":false,"ticks":true,"tickOpacity":0,"tickSize":10,"labelExpr":"datum.value < 10 ? '-6' : '-5'","labelAlign":"left","labelBaseline":"top","labelFontSize":15,"labelPadding":22,"labelOffset":-13,"title":null}},
  "text":{"field":"vg","type":"nominal"}
 }},
{"data":{"values":[{"title":"Ids-Vds Curves"}]},
 "mark":{"type":"rect","color":"black"},
 "encoding":{
  "x":{"datum":0.619,"type":"quantitative","axis":null},"x2":{"datum":1.3},
  "y":{"datum":41.72,"type":"quantitative","axis":null},"y2":{"datum":39.03}
 }},
{"data":{"values":[{"title":"Ids-Vds Curves"}]},
 "mark":{"type":"rect","fill":"white","stroke":"#333333","strokeWidth":1.5},
 "encoding":{
  "x":{"datum":0.597,"type":"quantitative","axis":null},"x2":{"datum":1.271},
  "y":{"datum":42.25,"type":"quantitative","axis":null},"y2":{"datum":39.72}
 }},
{"data":{"values":[{"title":"Ids-Vds Curves"}]},
 "mark":{"type":"text","align":"center","baseline":"middle","font":"Liberation Sans","fontWeight":"bold","fontSize":25,"color":"black"},
 "encoding":{
  "x":{"datum":0.934,"type":"quantitative","axis":null},
  "y":{"datum":40.95,"type":"quantitative","axis":null},
  "text":{"field":"title","type":"nominal"}
 }}
]
}
